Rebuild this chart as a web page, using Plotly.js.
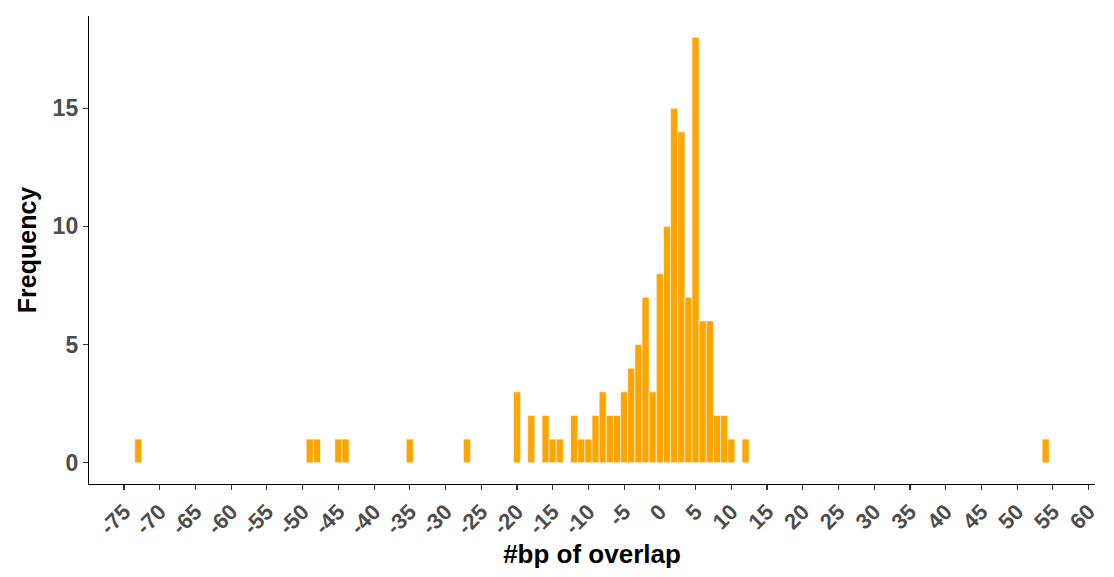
<!DOCTYPE html>
<html>
<head>
<meta charset="utf-8">
<script src="https://cdn.plot.ly/plotly-3.0.1.min.js"></script>
<style>body{margin:0;background:#fff;} #chart{width:1114px;height:577px;}</style>
</head>
<body>
<div id="chart"></div>
<script>
// bp of overlap (bin centres, binwidth 1) and frequency counts
const overlap = [-73, -49, -48, -45, -44, -35, -27, -20, -18, -16, -15, -14, -12, -11, -10, -9, -8, -7, -6, -5, -4, -3, -2, -1, 0, 1, 2, 3, 4, 5, 6, 7, 8, 9, 10, 12, 54];
const frequency = [1, 1, 1, 1, 1, 1, 1, 3, 2, 2, 1, 1, 2, 1, 1, 2, 3, 2, 2, 3, 4, 5, 7, 3, 8, 10, 15, 14, 7, 18, 6, 6, 2, 2, 1, 1, 1];
const xTicks = [-75,-70,-65,-60,-55,-50,-45,-40,-35,-30,-25,-20,-15,-10,-5,0,5,10,15,20,25,30,35,40,45,50,55,60];
const yTicks = [0, 5, 10, 15];

const FONT = 'Liberation Sans, Arial, sans-serif';
const trace = {
  type: 'bar',
  x: overlap,
  y: frequency,
  width: overlap.map(() => 1),
  marker: {color: '#FFA500', line: {color: '#FFFFFF', width: 0.6}},
  hoverinfo: 'x+y'
};
const layout = {
  width: 1114, height: 577,
  margin: {l: 89, r: 19, t: 16, b: 93},
  paper_bgcolor: '#FFFFFF', plot_bgcolor: '#FFFFFF',
  showlegend: false,
  bargap: 0,
  xaxis: {
    range: [-79.9, 60.9],
    tickvals: xTicks,
    ticktext: xTicks.map(String),
    tickangle: -45,
    ticks: 'outside', ticklen: 5, tickwidth: 1.1, tickcolor: '#333333',
    showline: true, linecolor: '#000000', linewidth: 1.2,
    showgrid: false, zeroline: false,
    tickfont: {family: FONT, size: 22, color: '#4D4D4D', weight: 'bold'},
    title: {text: '#bp of overlap', font: {family: FONT, size: 26, color: '#000000', weight: 'bold'}, standoff: 4}
  },
  yaxis: {
    range: [-0.9, 18.9],
    tickvals: yTicks,
    ticks: 'outside', ticklen: 5, tickwidth: 1.1, tickcolor: '#333333',
    showline: true, linecolor: '#000000', linewidth: 1.2,
    showgrid: false, zeroline: false,
    tickfont: {family: FONT, size: 23, color: '#4D4D4D', weight: 'bold'},
    title: {text: 'Frequency', font: {family: FONT, size: 25, color: '#000000', weight: 'bold'}, standoff: 8}
  }
};
Plotly.newPlot('chart', [trace], layout, {displayModeBar: false, staticPlot: true});
</script>
</body>
</html>
